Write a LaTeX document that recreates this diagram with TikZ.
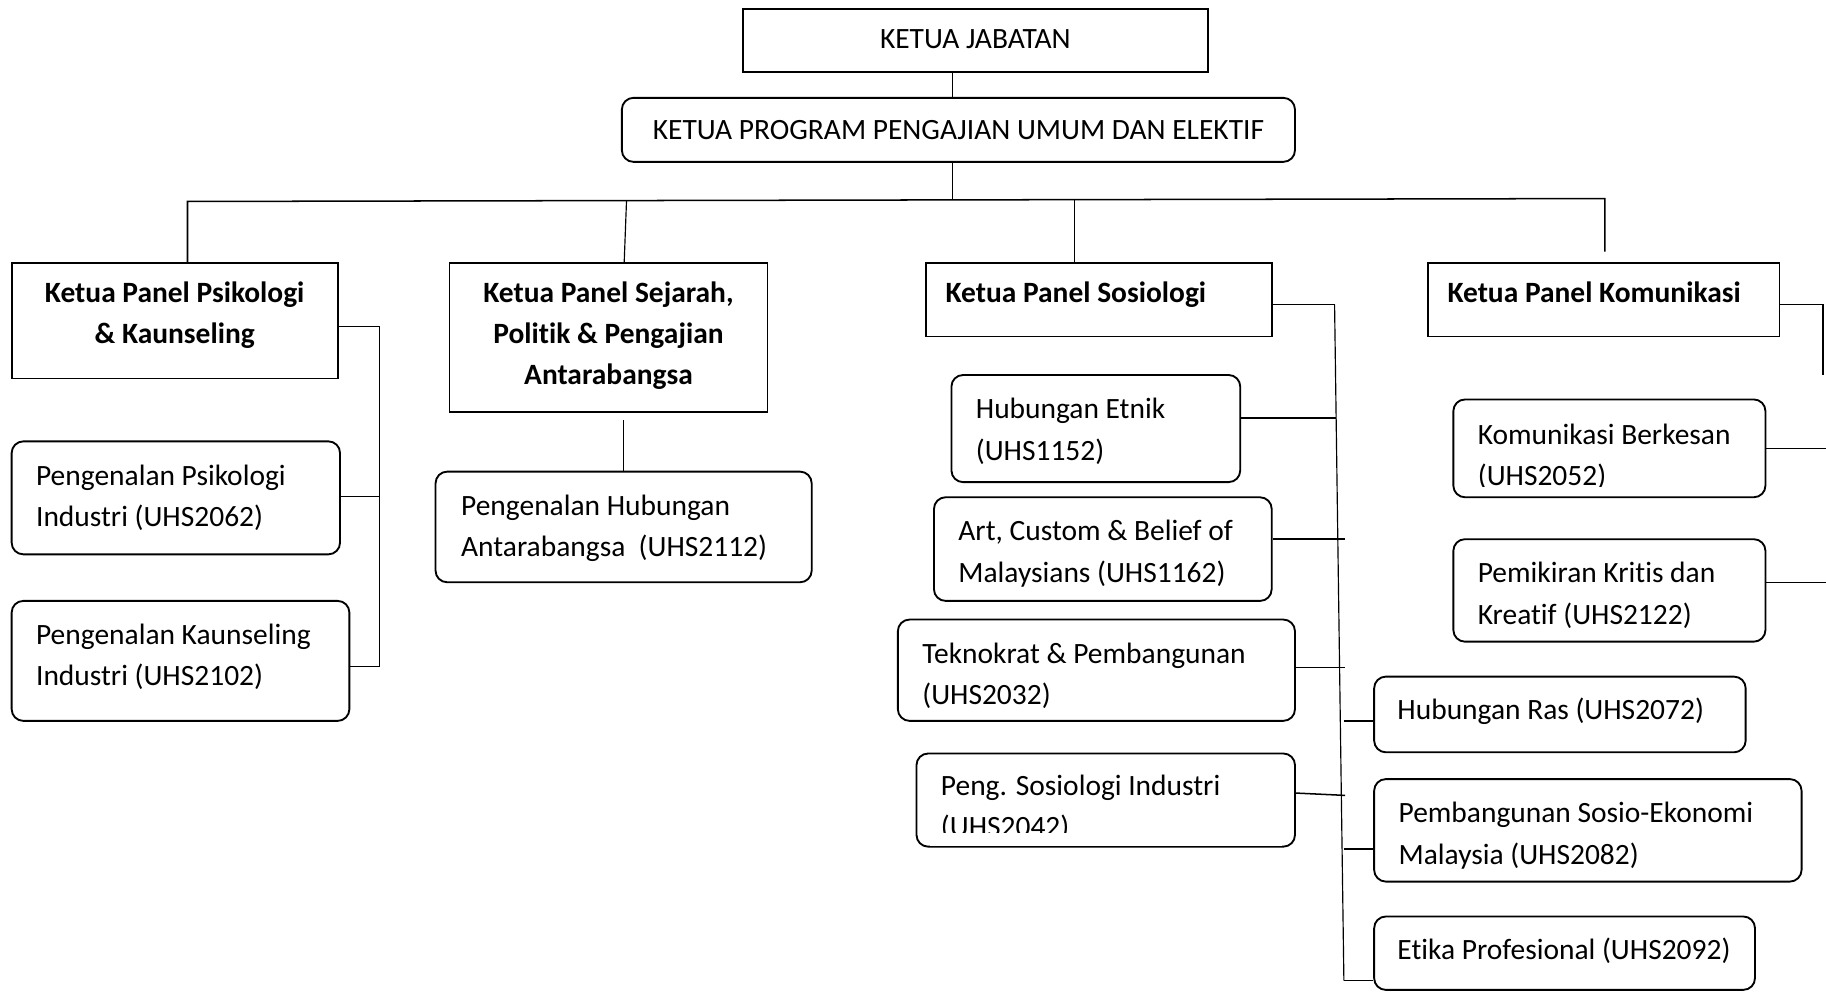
\documentclass[tikz,border=0pt]{standalone}
\usepackage{fontspec}
\setmainfont{Carlito}[Ligatures=NoCommon]
\newcommand\lbx[2]{\makebox[#1][l]{\begin{tabular}[t]{@{}l@{}}#2\end{tabular}}}
\newcommand\cbx[1]{\begin{tabular}[t]{@{}c@{}}#1\end{tabular}}
\begin{document}
\begin{tikzpicture}[x=1pt,y=-1pt,
  base/.style={draw, line width=1.6pt, inner sep=0pt, font=\fontsize{25.3}{35.5}\selectfont},
  sq/.style={base},
  panel/.style={base, font=\bfseries\fontsize{25.3}{35.5}\selectfont},
  rd/.style={base, rounded corners=10pt},
  up/.style={text height=#1, text depth=0pt},
  dn/.style={text height=0pt, text depth=#1},
  conn/.style={line width=1.3pt},
  thin/.style={line width=1pt}]
\useasboundingbox (0,0) rectangle (1568,852);

% top
\node[sq, minimum width=399, minimum height=54, up=13pt] (kj) at (837.5,35) {KETUA JABATAN};
\node[rd, minimum width=578, minimum height=55, up=16pt] (kp) at (823,111.5) {KETUA PROGRAM PENGAJIAN UMUM DAN ELEKTIF};

% panels
\node[panel, minimum width=280, minimum height=99, dn=32pt] (p1) at (150,275.5) {\cbx{Ketua Panel Psikologi\\\& Kaunseling}};
\node[panel, minimum width=273, minimum height=128, dn=61pt] (p2) at (522.5,290) {\cbx{Ketua Panel Sejarah,\\Politik \& Pengajian\\Antarabangsa}};
\node[panel, minimum width=297, minimum height=63, up=4pt] (p3) at (943.5,257.5) {\lbx{263pt}{Ketua Panel Sosiologi}};
\node[panel, minimum width=302, minimum height=63, up=4pt] (p4) at (1377,257.5) {\lbx{268pt}{Ketua Panel Komunikasi}};

% courses
\node[rd, minimum width=282, minimum height=97, dn=22pt] (c1) at (151,427.5) {\lbx{240pt}{Pengenalan Psikologi\\Industri (UHS2062)}};
\node[rd, minimum width=290, minimum height=103, dn=28pt] (c2) at (155,567.5) {\lbx{248pt}{Pengenalan Kaunseling\\Industri (UHS2102)}};
\node[rd, minimum width=323, minimum height=95, dn=20pt] (c3) at (535.5,452.5) {\lbx{279pt}{Pengenalan Hubungan\\Antarabangsa\ \ (UHS2112)}};

\node[rd, minimum width=248, minimum height=92, dn=17pt] (s1) at (941,368) {\lbx{206pt}{Hubungan Etnik\\(UHS1152)}};
\node[rd, minimum width=290, minimum height=89, dn=14pt] (s2) at (947,471.5) {\lbx{248pt}{Art, Custom \& Belief of\\Malaysians (UHS1162)}};
\node[rd, minimum width=341, minimum height=87, dn=12pt] (s3) at (941.5,575.5) {\lbx{299pt}{Teknokrat \& Pembangunan\\(UHS2032)}};
\node[rd, minimum width=325, minimum height=80, dn=8pt] (s4) at (949.5,687) {\lbx{283pt}{Peng. Sosiologi Industri\\(UHS2042)}};
\node[rd, minimum width=319, minimum height=65, up=8pt] (s5) at (1339.5,613.5) {\lbx{279pt}{Hubungan Ras (UHS2072)}};
\node[rd, minimum width=367, minimum height=88, dn=13pt] (s6) at (1363.5,713) {\lbx{325pt}{Pembangunan Sosio-Ekonomi\\Malaysia (UHS2082)}};
\node[rd, minimum width=327, minimum height=63, up=10pt] (s7) at (1343.5,818.5) {\lbx{287pt}{Etika Profesional (UHS2092)}};

\node[rd, minimum width=268, minimum height=84, dn=7pt] (k1) at (1382,385) {\lbx{226pt}{Komunikasi Berkesan\\(UHS2052)}};
\node[rd, minimum width=268, minimum height=88, dn=13pt] (k2) at (1382,507) {\lbx{226pt}{Pemikiran Kritis dan\\Kreatif (UHS2122)}};

% clipped text bottoms (as in the reference)
\fill[white] ([xshift=12pt,yshift=1.6pt]s4.south west) rectangle ([xshift=-12pt,yshift=12.5pt]s4.south east);
\fill[white] ([xshift=12pt,yshift=1.6pt]k1.south west) rectangle ([xshift=-12pt,yshift=9.5pt]k1.south east);

% coordinates
\coordinate (t1) at (818,172);
\coordinate (b1) at (161,173);
\coordinate (b2) at (538,172);
\coordinate (b3) at (923,171.5);
\coordinate (b4) at (1378,170.5);
\coordinate (e4) at (1378,216);
\coordinate (pv) at (326,0);
\coordinate (sa) at (1146,261.5);
\coordinate (sb) at (1154,842);
\coordinate (kv) at (1565.5,0);
\coordinate (ke) at (1565.5,322);
\coordinate (edge) at (1568,0);

% connectors
\draw[conn] (kj.south -| t1) -- (kp.north -| t1);
\draw[conn] (kp.south -| t1) -- (t1);
\draw[conn] (p1.north -| b1) -- (b1) -- (b4) -- (e4);
\draw[thin] (b2) -- ([xshift=-2pt]p2.north -| b2);
\draw[thin] (b3) -- (p3.north -| b3);

\draw[conn] ([yshift=-5pt]p1.east) -| ([yshift=-5pt]c2.east -| pv) -- ([yshift=-5pt]c2.east);
\draw[conn] ([yshift=1pt]c1.east) -- ([yshift=1pt]c1.east -| pv);
\draw[thin] ([yshift=-6pt]p2.south -| c3.north) -- (c3.north);

\draw[conn] ([yshift=-4pt]p3.east) -- (sa);
\draw[thin] (sa) -- (sb);
\draw[conn] ([yshift=9pt]s1.east) -- ([yshift=9pt]s1.east -| 1147,0);
\draw[conn] ([yshift=8.5pt]s2.east) -- ([yshift=8.5pt]s2.east -| 1155,0);
\draw[conn] ([yshift=2.5pt]s3.east) -- ([yshift=2.5pt]s3.east -| 1155,0);
\draw[conn] ([yshift=6pt]s4.east) -- ([yshift=4pt]s4.east -| 1155,0);
\draw[conn] ([yshift=-5.5pt]s5.west -| 1154,0) -- ([yshift=-5.5pt]s5.west);
\draw[conn] ([yshift=-16pt]s6.west -| 1154,0) -- ([yshift=-16pt]s6.west);
\draw[conn] (sb) -- (sb -| s7.west);

\draw[conn] ([yshift=-4pt]p4.east) -- ([yshift=-4pt]p4.east -| kv) -- (ke);
\draw[conn] (k1.east) -- (k1.east -| edge);
\draw[conn] ([yshift=7pt]k2.east) -- ([yshift=7pt]k2.east -| edge);
\end{tikzpicture}
\end{document}
